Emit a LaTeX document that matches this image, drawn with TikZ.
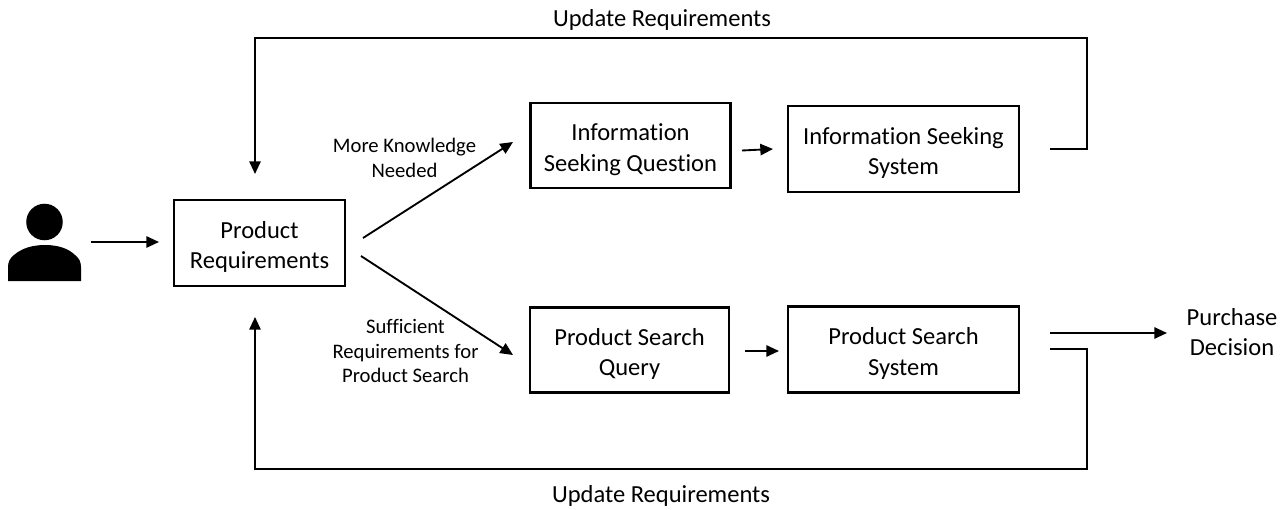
\documentclass[tikz,border=0pt]{standalone}
\usepackage{fontspec}
\setmainfont{Carlito}[Ligatures=NoCommon]
\usetikzlibrary{arrows.meta}
\newcommand{\boxstrut}{\rule{0pt}{19pt}}
\tikzset{
  flowbox/.style={draw=black,line width=1.6pt,align=center,font=\fontsize{18.4}{22.8}\selectfont,inner sep=0pt},
  flowline/.style={draw=black,line width=1.4pt,line join=miter},
  flowarrow/.style={flowline,-{Triangle[length=9.5pt,width=8.5pt]}},
  smalllabel/.style={align=center,font=\fontsize{15.5}{18.7}\selectfont,inner sep=0pt},
  biglabel/.style={align=center,font=\fontsize{18.4}{22.8}\selectfont,inner sep=0pt}
}
\begin{document}
\begin{tikzpicture}[y=0.75pt, x=0.75pt, yscale=-1.000000, xscale=1.000000]
\useasboundingbox (0,0) rectangle (1286,510);
% boxes
\node[flowbox,minimum width=128.25pt,minimum height=64.5pt] (reqbox) at (259.5,243) {\boxstrut Product\\Requirements};
\node[flowbox,minimum width=150pt,minimum height=63.75pt] (questionbox) at (630.5,145.5) {\boxstrut Information\\Seeking Question};
\node[flowbox,minimum width=173.25pt,minimum height=64.5pt] (seekbox) at (903.5,149) {\boxstrut Information Seeking\\System};
\node[flowbox,minimum width=149.25pt,minimum height=63.75pt] (querybox) at (629.5,350) {\boxstrut Product Search\\Query};
\node[flowbox,minimum width=173.25pt,minimum height=64.5pt] (searchbox) at (903.5,349.5) {\boxstrut Product Search\\System};
% user icon
\path[fill=black] (44.5,222) circle (13.7pt);
\path[fill=black] (8,281) -- (8,267) .. controls (8,262) and (10,258) .. (14,255)
  .. controls (22,248) and (33,245) .. (45,245) .. controls (57,245) and (68,248) .. (75,255)
  .. controls (79,258) and (81,262) .. (81,267) -- (81,281) -- cycle;
% free ends
\coordinate (userout) at (91,242);
\coordinate (reqin) at (159,242);
\coordinate (moreout) at (363,238);
\coordinate (morein) at (513,142);
\coordinate (suffout) at (361,256);
\coordinate (suffin) at (513,355);
\coordinate (qout) at (742,150.5);
\coordinate (qin) at (773,149);
\coordinate (sout) at (745,351);
\coordinate (sin) at (779,351);
\coordinate (seekout) at (1050,149);
\coordinate (seekturn) at (1087,149);
\coordinate (topright) at (1087,38);
\coordinate (topleft) at (255,38);
\coordinate (topin) at (255,174);
\coordinate (searchout) at (1050,349);
\coordinate (searchturn) at (1087,349);
\coordinate (botright) at (1087,469);
\coordinate (botleft) at (255,469);
\coordinate (botin) at (255,317);
\coordinate (buyout) at (1050,333);
\coordinate (buyin) at (1167,333);
% arrows
\draw[flowarrow] (userout) -- (reqin);
\draw[flowarrow] (moreout) -- (morein);
\draw[flowarrow] (suffout) -- (suffin);
\draw[flowarrow] (qout) -- (qin);
\draw[flowarrow] (sout) -- (sin);
\draw[flowarrow] (seekout) -- (seekturn) -- (topright) -- (topleft) -- (topin);
\draw[flowarrow] (searchout) -- (searchturn) -- (botright) -- (botleft) -- (botin);
\draw[flowarrow] (buyout) -- (buyin);
% labels
\node[biglabel] (toplabel) at (662,20) {Update Requirements};
\node[biglabel] (botlabel) at (661,496) {Update Requirements};
\node[smalllabel] (morelabel) at (404.5,158) {More Knowledge\\Needed};
\node[smalllabel] (sufflabel) at (405.5,351) {Sufficient\\Requirements for\\Product Search};
\node[biglabel] (buylabel) at (1232,332) {Purchase\\Decision};
\end{tikzpicture}
\end{document}
